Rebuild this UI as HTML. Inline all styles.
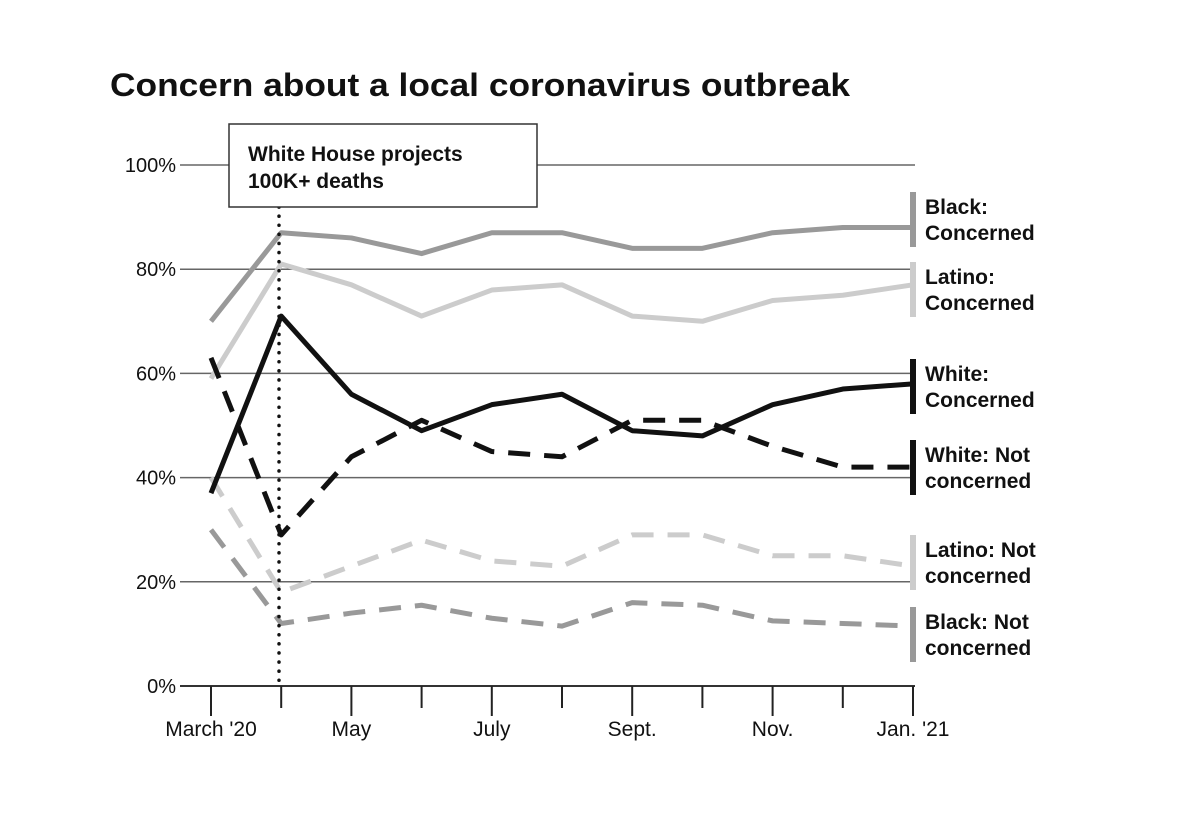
<!DOCTYPE html>
<html><head><meta charset="utf-8"><style>
body{margin:0;background:#fff;width:1200px;height:824px;overflow:hidden;font-family:"Liberation Sans",sans-serif}
</style></head><body>
<svg width="1200" height="824" id="svg">
<text x="110" y="96" font-size="32" font-weight="bold" fill="#111" textLength="740" lengthAdjust="spacingAndGlyphs">Concern about a local coronavirus outbreak</text>
<g id="grid"></g><g id="lines"></g><g id="labels"></g>
</svg>
<script>
const months=["March '20","Apr","May","Jun","July","Aug","Sept.","Oct","Nov.","Dec","Jan. '21"];
const yTicks=[0,20,40,60,80,100];
const blackConcerned=[70,87,86,83,87,87,84,84,87,88,88];
const latinoConcerned=[59,81,77,71,76,77,71,70,74,75,77];
const whiteConcerned=[37,71,56,49,54,56,49,48,54,57,58];
const whiteNot=[63,29,44,51,45,44,51,51,46,42,42];
const latinoNot=[40,18,23,28,24,23,29,29,25,25,23];
const blackNot=[30,12,14,15.5,13,11.5,16,15.5,12.5,12,11.5];
const NS="http://www.w3.org/2000/svg";
const x=i=>211+i*70.2, y=v=>686-v*5.21;
function mk(t,a,p){const e=document.createElementNS(NS,t);for(const k in a)e.setAttribute(k,a[k]);document.getElementById(p).appendChild(e);return e;}
yTicks.forEach(v=>{
 const l=mk('line',{x1:180,x2:915,y1:y(v),y2:y(v),stroke:v?'#666':'#333','stroke-width':v?1.5:2},'grid');
 
 
 const t=mk('text',{x:176,y:y(v)+7,'text-anchor':'end','font-size':20,fill:'#111'},'grid');t.textContent=v+'%';
 
 
});
months.forEach((m,i)=>{
 const l=mk('line',{x1:x(i),x2:x(i),y1:686,y2:i%2?708:716,stroke:'#222','stroke-width':2},'grid');
 
 
 if(i%2==0){const t=mk('text',{x:x(i),y:736,'text-anchor':'middle','font-size':21,fill:'#111'},'grid');t.textContent=m;
 
 }
});
const series=[
 [blackConcerned,'#999',null,'black-concerned',['Black:','Concerned']],
 [latinoConcerned,'#ccc',null,'latino-concerned',['Latino:','Concerned']],
 [whiteNot,'#111','22 14','white-not-concerned',['White: Not','concerned']],
 [latinoNot,'#ccc','22 14','latino-not-concerned',['Latino: Not','concerned']],
 [blackNot,'#999','22 14','black-not-concerned',['Black: Not','concerned']],
 [whiteConcerned,'#111',null,'white-concerned',['White:','Concerned']],
];
const lab={ 'black-concerned':205,'latino-concerned':275,'white-concerned':372,'white-not-concerned':453,'latino-not-concerned':548,'black-not-concerned':620};
series.forEach(([d,c,da,n,tx])=>{
 const p=mk('polyline',{points:d.map((v,i)=>x(i)+','+y(v)).join(' '),fill:'none',stroke:c,'stroke-width':5,'stroke-linejoin':'round'},'lines');
 if(da)p.setAttribute('stroke-dasharray',da);
 
 
 const ty=lab[n];
 const b=mk('line',{x1:913,x2:913,y1:ty-13,y2:ty+42,stroke:c,'stroke-width':6},'labels');
 
 
 const t=mk('text',{x:925,y:ty+9,'font-size':21,'font-weight':'bold',fill:'#111'},'labels');
 
 
 tx.forEach((s,k)=>{const ts=mk('tspan',{x:925,dy:k?26:0},'labels');ts.textContent=s;t.appendChild(ts);});
});
const dl=mk('line',{x1:279,x2:279,y1:207,y2:686,stroke:'#111','stroke-width':3.5,'stroke-dasharray':'0.1 9','stroke-linecap':'round'},'labels');


const bx=mk('rect',{x:229,y:124,width:308,height:83,fill:'#fff',stroke:'#333','stroke-width':1.5},'labels');


[['White House projects',161],['100K+ deaths',188]].forEach(([s,yy])=>{const t=mk('text',{x:248,y:yy,'font-size':21,'font-weight':'bold',fill:'#111'},'labels');t.textContent=s;
 
 });
</script>
</body></html>
